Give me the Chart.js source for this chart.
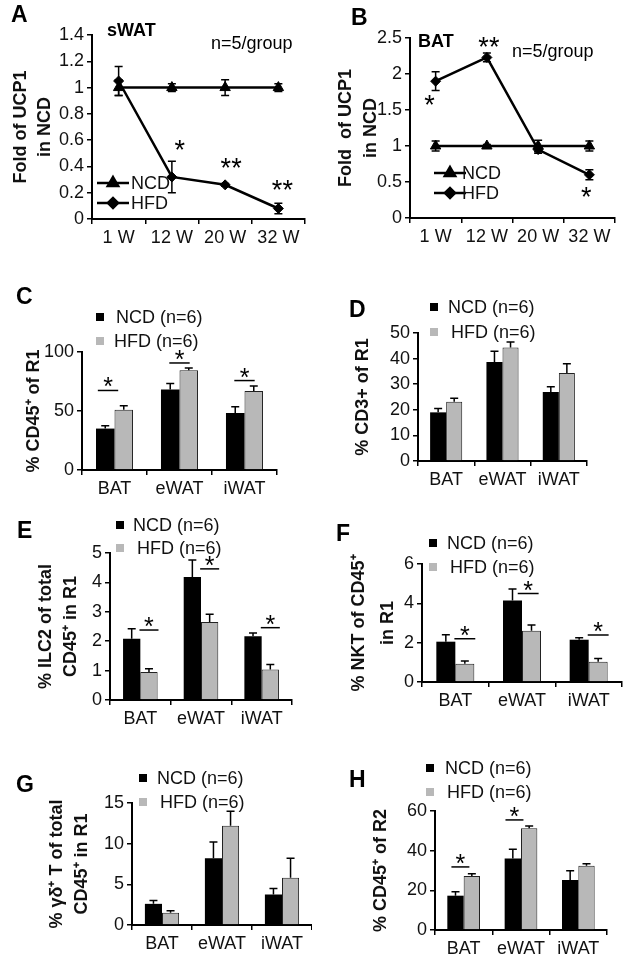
<!DOCTYPE html>
<html lang="en">
<head>
<meta charset="UTF-8">
<title>UCP1 and immune cells in adipose tissue</title>
<script src="https://cdn.jsdelivr.net/npm/chart.js@4/dist/chart.umd.min.js"></script>
<style>
  html, body { margin: 0; padding: 0; background: #fff; }
  #fig { position: relative; width: 624px; height: 965px; }
  #fig canvas { position: absolute; }
</style>
</head>
<body>
<div id="fig">
  <canvas id="pA"></canvas>
  <canvas id="pB"></canvas>
  <canvas id="pC"></canvas>
  <canvas id="pD"></canvas>
  <canvas id="pE"></canvas>
  <canvas id="pF"></canvas>
  <canvas id="pG"></canvas>
  <canvas id="pH"></canvas>
</div>
<script>
// ---------- data ----------
const weeks = ['1 W', '12 W', '20 W', '32 W'];
const tissues = ['BAT', 'eWAT', 'iWAT'];

// A - sWAT, fold of UCP1 in NCD
const sWatNCD = [1, 1, 1, 1];
const sWatNCDErr = [0.06, 0.03, 0.06, 0.03];
const sWatHFD = [1.05, 0.32, 0.26, 0.08];
const sWatHFDErr = [0.11, 0.12, 0.01, 0.04];
const sWatStars = ['', '*', '**', '**'];
const sWatStarY = [null, 0.56, 0.43, 0.26];
const sWatTicks = [0, 0.2, 0.4, 0.6, 0.8, 1, 1.2, 1.4];

// B - BAT, fold of UCP1 in NCD
const batNCD = [1, 1, 1, 1];
const batNCDErr = [0.07, 0.02, 0.08, 0.07];
const batHFD = [1.9, 2.23, 0.95, 0.6];
const batHFDErr = [0.13, 0.06, 0.05, 0.07];
const batStars = ['*', '**', '', '*'];
const batStarY = [1.64, 2.44, null, 0.36];
const batTicks = [0, 0.5, 1, 1.5, 2, 2.5];

// C - % CD45+ of R1
const cd45R1NCD = [35.1, 68.3, 48.3];
const cd45R1NCDErr = [2.5, 5, 5.4];
const cd45R1HFD = [51.1, 84.6, 66.9];
const cd45R1HFDErr = [3.4, 1.9, 4.2];
const cd45R1Sig = [[0, -0.7, 67.4], [1, 0, 90.7], [2, 0, 75.8]];
const cd45R1Ticks = [0, 50, 100];

// D - % CD3+ of R1
const cd3NCD = [19, 38.7, 27];
const cd3NCDErr = [1.5, 4.2, 2];
const cd3HFD = [23.1, 44.3, 34.4];
const cd3HFDErr = [1.4, 2.2, 3.6];
const cd3Ticks = [0, 10, 20, 30, 40, 50];

// E - % ILC2 of total CD45+ in R1
const ilc2NCD = [2.08, 4.18, 2.17];
const ilc2NCDErr = [0.34, 0.58, 0.11];
const ilc2HFD = [0.95, 2.65, 1.04];
const ilc2HFDErr = [0.11, 0.27, 0.17];
const ilc2Sig = [[0, 1, 2.38], [1, 1, 4.46], [2, 1, 2.46]];
const ilc2Ticks = [0, 1, 2, 3, 4, 5];

// F - % NKT of CD45+ in R1
const nktNCD = [2.05, 4.14, 2.15];
const nktNCDErr = [0.35, 0.59, 0.1];
const nktHFD = [0.93, 2.61, 1.03];
const nktHFDErr = [0.14, 0.29, 0.17];
const nktSig = [[0, 1, 2.2], [1, 0.65, 4.5], [2, 1, 2.39]];
const nktTicks = [0, 2, 4, 6];

// G - % gamma-delta T of total CD45+ in R1
const gdtNCD = [2.6, 8.2, 3.75];
const gdtNCDErr = [0.4, 2.0, 0.75];
const gdtHFD = [1.5, 12.2, 5.8];
const gdtHFDErr = [0.25, 1.8, 2.4];
const gdtTicks = [0, 5, 10, 15];

// H - % CD45+ of R2
const cd45R2NCD = [17.3, 36.1, 25.2];
const cd45R2NCDErr = [2.0, 4.6, 4.7];
const cd45R2HFD = [27.2, 51.3, 32.4];
const cd45R2HFDErr = [1.2, 1.1, 1.0];
const cd45R2Sig = [[0, -0.4, 31.8], [1, -0.8, 55.5]];
const cd45R2Ticks = [0, 20, 40, 60];

// ---------- drawing ----------
Chart.defaults.font.family = "'Liberation Sans', Arial, Helvetica, sans-serif";
Chart.defaults.color = '#000';
const FONT = 18;
const FAM = Chart.defaults.font.family;
const GRAY = '#b8b8b8';

// error bars, significance marks, legend and free text
const figurePlugin = {
  id: 'figure',
  afterDatasetsDraw(chart, args, opts) {
    const ctx = chart.ctx;
    const xs = chart.scales.x, ys = chart.scales.y;
    const isBar = chart.config.type === 'bar';
    ctx.save();
    ctx.strokeStyle = '#000';
    ctx.lineWidth = 1.5;
    chart.data.datasets.forEach((ds, di) => {
      const meta = chart.getDatasetMeta(di);
      ds.errors.forEach((e, i) => {
        const px = meta.data[i].x;
        const top = ys.getPixelForValue(ds.data[i] + e);
        const bot = ys.getPixelForValue(isBar ? ds.data[i] : ds.data[i] - e);
        ctx.beginPath();
        ctx.moveTo(px, top); ctx.lineTo(px, bot);
        ctx.moveTo(px - 4, top); ctx.lineTo(px + 4, top);
        if (!isBar) { ctx.moveTo(px - 4, bot); ctx.lineTo(px + 4, bot); }
        ctx.stroke();
      });
    });

    ctx.fillStyle = '#000';
    ctx.textAlign = 'center';
    ctx.textBaseline = 'alphabetic';
    // stars on line charts
    if (opts.stars) {
      ctx.font = '27px ' + FAM;
      opts.stars.labels.forEach((s, i) => {
        if (!s) return;
        const px = xs.getPixelForValue(i) + opts.stars.dx[i];
        const py = ys.getPixelForValue(opts.stars.values[i]);
        ctx.fillText(s, px, py + 27 * 0.52);
      });
    }
    // significance brackets on bar charts
    if (opts.sig) {
      const meta0 = chart.getDatasetMeta(0);
      ctx.font = '25px ' + FAM;
      opts.sig.forEach(([cat, side, val]) => {
        const bw = meta0.data[cat].width;
        const cx = xs.getPixelForValue(cat) + side * bw / 2;
        const py = ys.getPixelForValue(val);
        ctx.beginPath();
        ctx.moveTo(cx - bw * 0.55, py); ctx.lineTo(cx + bw * 0.55, py);
        ctx.stroke();
        ctx.fillText('*', cx, py - 8 + 25 * 0.52);
      });
    }

    // legend
    const lg = opts.legend;
    if (lg) {
      ctx.font = FONT + 'px ' + FAM;
      ctx.textAlign = 'left';
      ctx.textBaseline = 'middle';
      chart.data.datasets.forEach((ds, di) => {
        const ly = lg.y + di * lg.gap;
        if (lg.kind === 'bar') {
          ctx.fillStyle = ds.backgroundColor;
          ctx.fillRect(lg.x - 4, ly - 4, 8, 8);
        } else {
          ctx.strokeStyle = '#000';
          ctx.lineWidth = 2.5;
          ctx.beginPath();
          ctx.moveTo(lg.x - 16, ly); ctx.lineTo(lg.x + 16, ly);
          ctx.stroke();
          ctx.fillStyle = '#000';
          Chart.helpers.drawPoint(ctx, { pointStyle: ds.pointStyle, radius: ds.pointRadius, rotation: 0, borderWidth: 1 }, lg.x, ly);
        }
        ctx.fillStyle = '#111';
        ctx.fillText(ds.label, lg.tx + (di ? lg.dx2 || 0 : 0), ly + 1);
      });
    }

    // panel letters and notes
    (opts.texts || []).forEach(t => {
      ctx.font = t.font + ' ' + FAM;
      ctx.fillStyle = '#000';
      ctx.textAlign = t.align || 'left';
      ctx.textBaseline = 'middle';
      ctx.fillText(t.text, t.x, t.y);
    });
    ctx.restore();
  }
};

function makeScales(p) {
  const yWidth = p.area.l - p.box.x;
  const xHeight = p.box.y + p.box.h - p.area.b;
  return {
    x: {
      type: 'category',
      offset: true,
      grid: { offset: true, drawOnChartArea: false, drawTicks: true, tickLength: 5, color: '#000', lineWidth: 1.5 },
      border: { color: '#000', width: 2 },
      ticks: { font: { size: FONT }, color: '#111', padding: 3, maxRotation: 0, autoSkip: false },
      afterFit: s => { s.height = xHeight; }
    },
    y: {
      min: p.yTicks[0],
      max: p.yTicks[p.yTicks.length - 1],
      afterBuildTicks: s => { s.ticks = p.yTicks.map(v => ({ value: v })); },
      grid: { drawOnChartArea: false, tickLength: 5, color: '#000', lineWidth: 1.5 },
      border: { color: '#000', width: 2 },
      ticks: { font: { size: FONT }, color: '#111', padding: 3, callback: v => String(Math.round(v * 100) / 100) },
      title: {
        display: true, text: p.yTitle, color: '#111',
        font: { size: FONT, weight: 'bold', lineHeight: p.titleLH + 'px' },
        padding: { top: p.titlePad, bottom: 0 }
      },
      afterFit: s => { s.width = yWidth; }
    }
  };
}

function makePanel(id, p, type, datasets, extra) {
  const cv = document.getElementById(id);
  cv.width = p.box.w; cv.height = p.box.h;
  cv.style.left = p.box.x + 'px';
  cv.style.top = p.box.y + 'px';
  return new Chart(cv, {
    type: type,
    data: { labels: p.labels, datasets: datasets },
    options: {
      responsive: false,
      animation: false,
      devicePixelRatio: 1,
      layout: { padding: { top: p.area.t - p.box.y, right: p.box.x + p.box.w - p.area.r, left: 0, bottom: 0 } },
      scales: makeScales(p),
      plugins: { legend: { display: false }, tooltip: { enabled: false }, figure: extra }
    },
    plugins: [figurePlugin]
  });
}

function lineSets(ncd, ncdErr, hfd, hfdErr) {
  const base = { borderColor: '#000', backgroundColor: '#000', borderWidth: 2.5, tension: 0, pointBorderWidth: 1 };
  return [
    Object.assign({ label: 'NCD', data: ncd, errors: ncdErr, pointStyle: 'triangle', pointRadius: 6 }, base),
    Object.assign({ label: 'HFD', data: hfd, errors: hfdErr, pointStyle: 'rectRot', pointRadius: 5 }, base)
  ];
}

function barSets(ncd, ncdErr, hfd, hfdErr) {
  const base = { categoryPercentage: 0.57, barPercentage: 1.0 };
  return [
    Object.assign({ label: 'NCD (n=6)', data: ncd, errors: ncdErr, backgroundColor: '#000', borderWidth: 0 }, base),
    Object.assign({ label: 'HFD (n=6)', data: hfd, errors: hfdErr, backgroundColor: GRAY, borderColor: '#222', borderWidth: 1 }, base)
  ];
}

// A
makePanel('pA', {
  box: { x: 0, y: 0, w: 312, h: 262 }, area: { l: 92, t: 35, r: 310, b: 219 },
  labels: weeks, yTicks: sWatTicks, yTitle: ['Fold of UCP1', 'in NCD'], titleLH: 24, titlePad: 9
}, 'line', lineSets(sWatNCD, sWatNCDErr, sWatHFD, sWatHFDErr), {
  stars: { labels: sWatStars, values: sWatStarY, dx: [0, 8, 6, 4] },
  legend: { kind: 'line', x: 113, y: 183, gap: 20, tx: 131 },
  texts: [
    { text: 'A', x: 11, y: 16, font: 'bold 23px' },
    { text: 'sWAT', x: 107, y: 31, font: 'bold 18px' },
    { text: 'n=5/group', x: 211, y: 44, font: '18px' }
  ]
});

// B
makePanel('pB', {
  box: { x: 312, y: 0, w: 312, h: 262 }, area: { l: 410, t: 38, r: 615, b: 218 },
  labels: weeks, yTicks: batTicks, yTitle: ['Fold  of UCP1', 'in NCD'], titleLH: 25, titlePad: 22
}, 'line', lineSets(batNCD, batNCDErr, batHFD, batHFDErr), {
  stars: { labels: batStars, values: batStarY, dx: [-6, 2, 0, -3] },
  legend: { kind: 'line', x: 138, y: 173, gap: 20, tx: 150 },
  texts: [
    { text: 'B', x: 39, y: 19, font: 'bold 23px' },
    { text: 'BAT', x: 106, y: 42, font: 'bold 18px' },
    { text: 'n=5/group', x: 200, y: 52, font: '18px' }
  ]
});

// C
makePanel('pC', {
  box: { x: 0, y: 262, w: 312, h: 233 }, area: { l: 82, t: 352, r: 277, b: 470 },
  labels: tissues, yTicks: cd45R1Ticks, yTitle: '% CD45\u207A of R1', titleLH: 23, titlePad: 23
}, 'bar', barSets(cd45R1NCD, cd45R1NCDErr, cd45R1HFD, cd45R1HFDErr), {
  sig: cd45R1Sig,
  legend: { kind: 'bar', x: 100, y: 55, gap: 24, tx: 116, dx2: -2 },
  texts: [{ text: 'C', x: 16, y: 36, font: 'bold 23px' }]
});

// D
makePanel('pD', {
  box: { x: 312, y: 262, w: 312, h: 233 }, area: { l: 418, t: 333, r: 587, b: 461 },
  labels: tissues, yTicks: cd3Ticks, yTitle: '% CD3+ of R1', titleLH: 23, titlePad: 40
}, 'bar', barSets(cd3NCD, cd3NCDErr, cd3HFD, cd3HFDErr), {
  legend: { kind: 'bar', x: 122, y: 45, gap: 25, tx: 136, dx2: 3 },
  texts: [{ text: 'D', x: 37, y: 49, font: 'bold 23px' }]
});

// E
makePanel('pE', {
  box: { x: 0, y: 495, w: 312, h: 235 }, area: { l: 110, t: 553, r: 292, b: 700 },
  labels: tissues, yTicks: ilc2Ticks, yTitle: ['% ILC2 of total', 'CD45\u207A in R1'], titleLH: 25, titlePad: 34
}, 'bar', barSets(ilc2NCD, ilc2NCDErr, ilc2HFD, ilc2HFDErr), {
  sig: ilc2Sig,
  legend: { kind: 'bar', x: 120, y: 30, gap: 23, tx: 133, dx2: 4 },
  texts: [{ text: 'E', x: 17, y: 37, font: 'bold 23px' }]
});

// F
makePanel('pF', {
  box: { x: 312, y: 495, w: 312, h: 235 }, area: { l: 422, t: 564, r: 622, b: 682 },
  labels: tissues, yTicks: nktTicks, yTitle: ['% NKT of CD45\u207A', 'in R1'], titleLH: 29, titlePad: 33
}, 'bar', barSets(nktNCD, nktNCDErr, nktHFD, nktHFDErr), {
  sig: nktSig,
  legend: { kind: 'bar', x: 121, y: 48, gap: 24, tx: 135, dx2: 3 },
  texts: [{ text: 'F', x: 24, y: 40, font: 'bold 23px' }]
});

// G
makePanel('pG', {
  box: { x: 0, y: 730, w: 312, h: 235 }, area: { l: 132, t: 803, r: 312, b: 925 },
  labels: tissues, yTicks: gdtTicks, yTitle: ['% \u03B3\u03B4\u207A T of total', 'CD45\u207A in R1'], titleLH: 25, titlePad: 45
}, 'bar', barSets(gdtNCD, gdtNCDErr, gdtHFD, gdtHFDErr), {
  legend: { kind: 'bar', x: 143, y: 48, gap: 24, tx: 157, dx2: 3 },
  texts: [{ text: 'G', x: 16, y: 56, font: 'bold 23px' }]
});

// H
makePanel('pH', {
  box: { x: 312, y: 730, w: 312, h: 235 }, area: { l: 435, t: 811, r: 607, b: 930 },
  labels: tissues, yTicks: cd45R2Ticks, yTitle: '% CD45\u207A of R2', titleLH: 23, titlePad: 58
}, 'bar', barSets(cd45R2NCD, cd45R2NCDErr, cd45R2HFD, cd45R2HFDErr), {
  sig: cd45R2Sig,
  legend: { kind: 'bar', x: 118, y: 38, gap: 24, tx: 133, dx2: 2 },
  texts: [{ text: 'H', x: 37, y: 51, font: 'bold 23px' }]
});
</script>
</body>
</html>
